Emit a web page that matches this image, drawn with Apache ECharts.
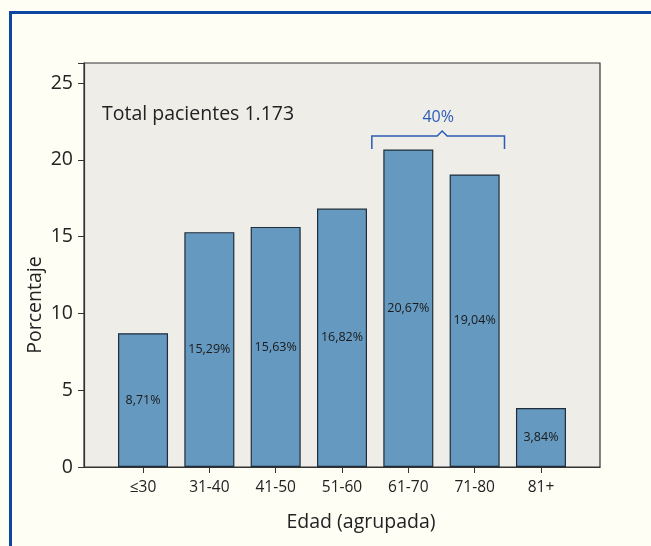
<!DOCTYPE html>
<html>
<head>
<meta charset="utf-8">
<script src="https://cdn.jsdelivr.net/npm/echarts@6/dist/echarts.min.js"></script>
<style>
html,body{margin:0;padding:0;background:#fffef5;}
#frame{position:absolute;left:9px;top:11px;width:660px;height:560px;border-top:3px solid #0d47a1;border-left:3px solid #0d47a1;box-sizing:border-box;}
#c{position:absolute;left:0;top:0;width:651px;height:546px;}
</style>
</head>
<body>
<div id="frame"></div>
<div id="c"></div>
<script>
var categories = ['≤30', '31-40', '41-50', '51-60', '61-70', '71-80', '81+'];
var percentages = [8.71, 15.29, 15.63, 16.82, 20.67, 19.04, 3.84];
var yTicks = [0, 5, 10, 15, 20, 25];
var totalText = 'Total pacientes 1.173';
var bracketText = '40%';
var bracketRange = [3.45, 5.45];

var FONT = '"Open Sans", "Noto Sans", sans-serif';
var chart = echarts.init(document.getElementById('c'));
var idx = categories.map(function (c, i) { return i; });
var barData = percentages.map(function (v, i) { return [i, v]; });

chart.setOption({
  backgroundColor: 'transparent',
  animation: false,
  textStyle: { fontFamily: FONT },
  grid: {
    left: 84, right: 51, top: 63, bottom: 79,
    show: true, backgroundColor: '#efede8', borderColor: '#333', borderWidth: 1.2
  },
  title: {
    text: totalText, left: 97, top: 99,
    textStyle: { fontFamily: FONT, fontSize: 19.5, fontWeight: 'normal', color: '#222' }
  },
  xAxis: {
    type: 'value', min: -0.89, max: 6.89,
    name: 'Edad (agrupada)', nameLocation: 'middle', nameGap: 45,
    nameTextStyle: { fontFamily: FONT, fontSize: 19.5, color: '#222', padding: [0, 0, 0, 38] },
    axisLine: { show: true, onZero: false, lineStyle: { color: '#333', width: 1.2 } },
    axisTick: { show: true, customValues: idx, length: 6, lineStyle: { color: '#333' } },
    axisLabel: {
      customValues: idx, margin: 13, fontSize: 15.5, color: '#222', fontFamily: FONT,
      formatter: function (v) { return categories[Math.round(v)]; }
    },
    splitLine: { show: false }
  },
  yAxis: {
    type: 'value', min: 0, max: 26.3, interval: 5,
    name: 'Porcentaje', nameLocation: 'middle', nameGap: 39, nameRotate: 90,
    nameMoveOverlap: false,
    nameTextStyle: { fontFamily: FONT, fontSize: 19.5, color: '#222', padding: [0, 80, 0, 0] },
    axisLine: { show: true, onZero: false, lineStyle: { color: '#333', width: 1.2 } },
    axisTick: { show: true, length: 6, lineStyle: { color: '#333' } },
    axisLabel: {
      fontSize: 19.5, color: '#222', margin: 11, fontFamily: FONT,
      customValues: yTicks
    },
    splitLine: { show: false }
  },
  series: [{
    type: 'bar',
    data: barData,
    barWidth: 50,
    itemStyle: { color: '#6599c0', borderColor: '#1f2d3a', borderWidth: 1.2 },
    label: {
      show: true, position: 'inside', fontSize: 12.5, color: '#1a1a1a', fontFamily: FONT,
      formatter: function (p) { return p.value[1].toFixed(2).replace('.', ',') + '%'; }
    }
  }]
});

function drawBracket() {
  var yTop = 21.55, yEnd = 20.7;
  var p1 = chart.convertToPixel({ gridIndex: 0 }, [bracketRange[0], yTop]);
  var p2 = chart.convertToPixel({ gridIndex: 0 }, [bracketRange[1], yTop]);
  var pe = chart.convertToPixel({ gridIndex: 0 }, [bracketRange[0], yEnd]);
  var cx = (p1[0] + p2[0]) / 2 + 4;
  var col = '#2b5bb5';
  chart.setOption({
    graphic: [
      {
        type: 'polyline', silent: true,
        shape: { points: [[p1[0], pe[1]], [p1[0], p1[1]], [cx - 5, p1[1]], [cx, p1[1] - 5], [cx + 5, p1[1]], [p2[0], p2[1]], [p2[0], pe[1]]] },
        style: { stroke: col, lineWidth: 1.5, fill: null }
      },
      {
        type: 'text', silent: true,
        x: cx - 4, y: p1[1] - 19,
        style: { text: bracketText, fill: col, font: '16px ' + FONT, align: 'center', verticalAlign: 'middle' }
      }
    ]
  });
}
drawBracket();
</script>
</body>
</html>
